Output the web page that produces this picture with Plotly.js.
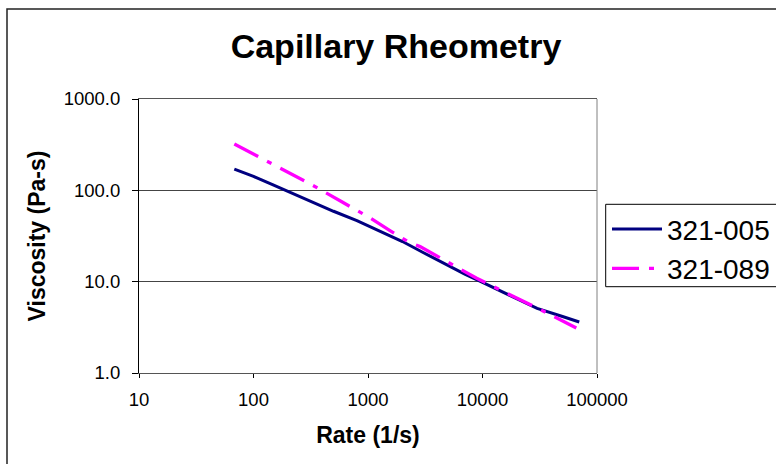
<!DOCTYPE html>
<html>
<head>
<meta charset="utf-8">
<script src="https://cdn.plot.ly/plotly-3.0.1.min.js"></script>
<style>
  html, body { margin: 0; padding: 0; background: #fff; }
  #chart { width: 776px; height: 464px; }
</style>
</head>
<body>
<div id="chart"></div>
<script>
// Series 321-005
const rateA = [68, 100, 150, 200, 300, 500, 800, 1000, 1250, 1350, 2000, 3000, 5000, 7000, 10000, 20000, 30000, 50000, 70000];
const viscA = [171, 142, 114, 97, 78, 59, 46.5, 41.0, 35.8, 34.4, 27.5, 21, 14.9, 12.1, 9.8, 6.5, 5.1, 4.15, 3.62];
// Series 321-089
const rateB = [68, 100, 170, 340, 590, 1060, 1580, 2250, 2850, 5000, 8900, 17000, 30000, 66000];
const viscB = [322, 250, 175, 111, 75, 49.3, 35.8, 27.3, 24.2, 16.5, 10.9, 7.3, 5.16, 3.11];

const seriesNames = ['321-005', '321-089'];
const chartTitle = 'Capillary Rheometry';
const xTitle = 'Rate (1/s)';
const yTitle = 'Viscosity (Pa-s)';

const FONT = 'Liberation Sans, Arial, Helvetica, sans-serif';

const traces = [
  {
    x: rateA, y: viscA, name: seriesNames[0], type: 'scatter', mode: 'lines',
    line: { color: '#000080', width: 3 }, legendgroup: 'a'
  },
  {
    x: rateB, y: viscB, name: seriesNames[1], type: 'scatter', mode: 'lines',
    line: { color: '#FF00FF', width: 3.3, dash: '27px,10px,5px,10px' }, legendgroup: 'b'
  }
];

const layout = {
  width: 776, height: 464,
  margin: { l: 139, r: 179, t: 99, b: 91, pad: 0 },
  paper_bgcolor: '#ffffff', plot_bgcolor: '#ffffff',
  font: { family: FONT, color: '#000' },
  title: {
    text: chartTitle,
    font: { family: FONT, size: 34, weight: 'bold', color: '#000' },
    x: 396 / 776, xref: 'container', xanchor: 'center',
    y: 1 - 46 / 464, yref: 'container', yanchor: 'middle'
  },
  xaxis: {
    type: 'log', range: [1, 5], dtick: 1, tickformat: 'd',
    showgrid: false, zeroline: false,
    showline: true, linecolor: '#555', linewidth: 1, mirror: true,
    ticks: 'outside', ticklen: 4, tickcolor: '#000',
    tickfont: { family: FONT, size: 18.5, color: '#000' },
    ticklabelstandoff: 6,
    title: { text: xTitle, font: { family: FONT, size: 23, weight: 'bold', color: '#000' }, standoff: 17 },
    automargin: false, fixedrange: true
  },
  yaxis: {
    type: 'log', range: [0, 3], dtick: 1, tickformat: '.1f',
    showgrid: true, gridcolor: '#444', gridwidth: 1, zeroline: false,
    showline: true, linecolor: '#000', linewidth: 1,
    ticks: 'outside', ticklen: 6, tickcolor: '#000',
    tickfont: { family: FONT, size: 18.5, color: '#000' },
    ticklabelstandoff: 8,
    title: { text: yTitle, font: { family: FONT, size: 23, weight: 'bold', color: '#000' }, standoff: 11 },
    automargin: false, fixedrange: true
  },
  showlegend: true,
  legend: {
    xref: 'container', yref: 'container',
    x: 607 / 776, xanchor: 'left',
    y: 1 - 204.3 / 464, yanchor: 'top',
    bgcolor: 'rgba(0,0,0,0)', borderwidth: 0,
    font: { family: FONT, size: 28, color: '#000' },
    itemwidth: 50,
    traceorder: 'grouped', tracegroupgap: 0
  },
  shapes: [
    { type: 'line', xref: 'paper', yref: 'paper', x0: 1, x1: 1, y0: 0, y1: 1,
      line: { color: '#808080', width: 1 } },
    { type: 'rect', xref: 'paper', yref: 'paper',
      x0: (7 - 139) / 458, x1: 2, y0: -1, y1: 1 + (99 - 9) / 274,
      line: { color: '#222', width: 1.5 }, fillcolor: 'rgba(0,0,0,0)', layer: 'below' },
    { type: 'rect', xref: 'paper', yref: 'paper',
      x0: (605.7 - 139) / 458, x1: (800 - 139) / 458,
      y0: 1 - (286.7 - 99) / 274, y1: 1 - (204.3 - 99) / 274,
      line: { color: '#000', width: 1 }, fillcolor: '#fff', layer: 'above' }
  ]
};

Plotly.newPlot('chart', traces, layout, { staticPlot: true, displayModeBar: false });
</script>
</body>
</html>
